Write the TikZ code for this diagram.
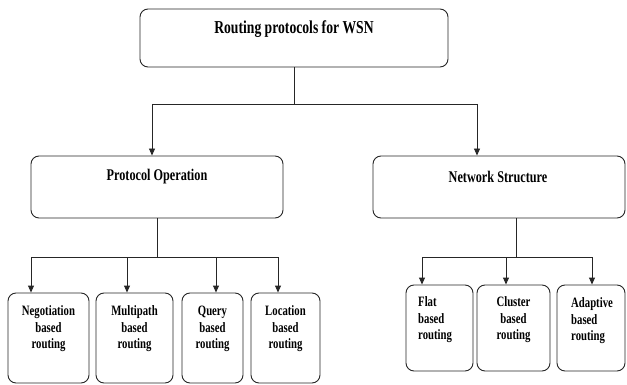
\documentclass[tikz,border=0pt]{standalone}
\usepackage{fontspec}
\newfontfamily\boxfont[FakeStretch=0.75]{Liberation Serif}
\usetikzlibrary{arrows.meta, positioning}

\begin{document}
\begin{tikzpicture}[
    x=1pt, y=-1pt,
    box/.style={draw=black!85, line width=0.9pt, rounded corners=8pt, inner sep=0pt},
    wire/.style={draw=black!85, line width=0.9pt},
    arr/.style={wire, -{Triangle[length=7pt, width=6pt]}},
    ttl/.style={inner sep=0pt, font=\boxfont\bfseries\fontsize{18.2}{22}\selectfont},
    mid/.style={inner sep=0pt, font=\boxfont\bfseries\fontsize{16.3}{20}\selectfont},
    leaf/.style={inner sep=0pt, align=center, font=\boxfont\bfseries\fontsize{14.3}{16.5}\selectfont},
]
\useasboundingbox (0,0) rectangle (627,385);

% --- levels (y, pixels downwards) ---
\def\yRootBar{104}   % bar under the root box
\def\yMidBar{257}    % bars under the two middle boxes

% root
\node[box, minimum width=308pt, minimum height=58pt] (root) at (294,38) {};
\node[ttl] (root-txt) at (294,29) {Routing protocols for WSN};

% second level
\node[box, minimum width=252pt, minimum height=62pt] (po) at (157,187) {};
\node[mid] (po-txt) at (157,177) {Protocol Operation};
\node[box, minimum width=252pt, minimum height=62pt] (ns) at (499,187) {};
\node[mid] (ns-txt) at (498,177) {Network Structure};

% leaves under protocol operation
\node[box, minimum width=81pt, minimum height=90pt] (neg)   at (48.5,338)  {};
\node[box, minimum width=77pt, minimum height=90pt] (multi) at (134.5,338) {};
\node[box, minimum width=61pt, minimum height=90pt] (query) at (212.5,338) {};
\node[box, minimum width=69pt, minimum height=90pt] (loc)   at (285.5,338) {};
\node[leaf] (neg-txt)   at (48.5,329)  {Negotiation\\based\\routing};
\node[leaf] (multi-txt) at (134.5,329) {Multipath\\based\\routing};
\node[leaf] (query-txt) at (212.5,329) {Query\\based\\routing};
\node[leaf] (loc-txt)   at (285.5,329) {Location\\based\\routing};

% leaves under network structure
\node[box, minimum width=67pt, minimum height=86pt] (flat)  at (439.5,328) {};
\node[box, minimum width=73pt, minimum height=86pt] (clus)  at (513.5,328) {};
\node[box, minimum width=68pt, minimum height=86pt] (adapt) at (591,328)   {};
\node[leaf, align=left, anchor=west] (flat-txt)  at (418,320) {Flat\\based\\routing};
\node[leaf] (clus-txt) at (513.5,320) {Cluster\\based\\routing};
\node[leaf, align=left, anchor=west] (adapt-txt) at (571,321) {Adaptive\\based\\routing};

% root -> second level
\coordinate (r-l) at (152,\yRootBar);
\coordinate (r-r) at (477,\yRootBar);
\draw[wire] (root.south) -- (root.south |- r-l);
\draw[wire] (r-l) -- (r-r);
\draw[arr] (r-l) -- (r-l |- po.north);
\draw[arr] (r-r) -- (r-r |- ns.north);

% protocol operation -> leaves
\draw[wire] (po.south) -- (po.south |- 0,\yMidBar) coordinate (p-j);
\draw[wire] (31,\yMidBar) -- (278,\yMidBar);
\foreach \n/\x in {neg/31, multi/127, query/216, loc/278} {
  \coordinate (pa-\n) at (\x,\yMidBar);
  \draw[arr] (pa-\n) -- (pa-\n |- \n.north);
}

% network structure -> leaves
\coordinate (n-j) at (516,\yMidBar);
\draw[wire] (n-j |- ns.south) -- (n-j);
\draw[wire] (422,\yMidBar) -- (592,\yMidBar);
\foreach \n/\x in {flat/422, clus/506, adapt/592} {
  \coordinate (na-\n) at (\x,\yMidBar);
  \draw[arr] (na-\n) -- (na-\n |- \n.north);
}
\end{tikzpicture}
\end{document}
